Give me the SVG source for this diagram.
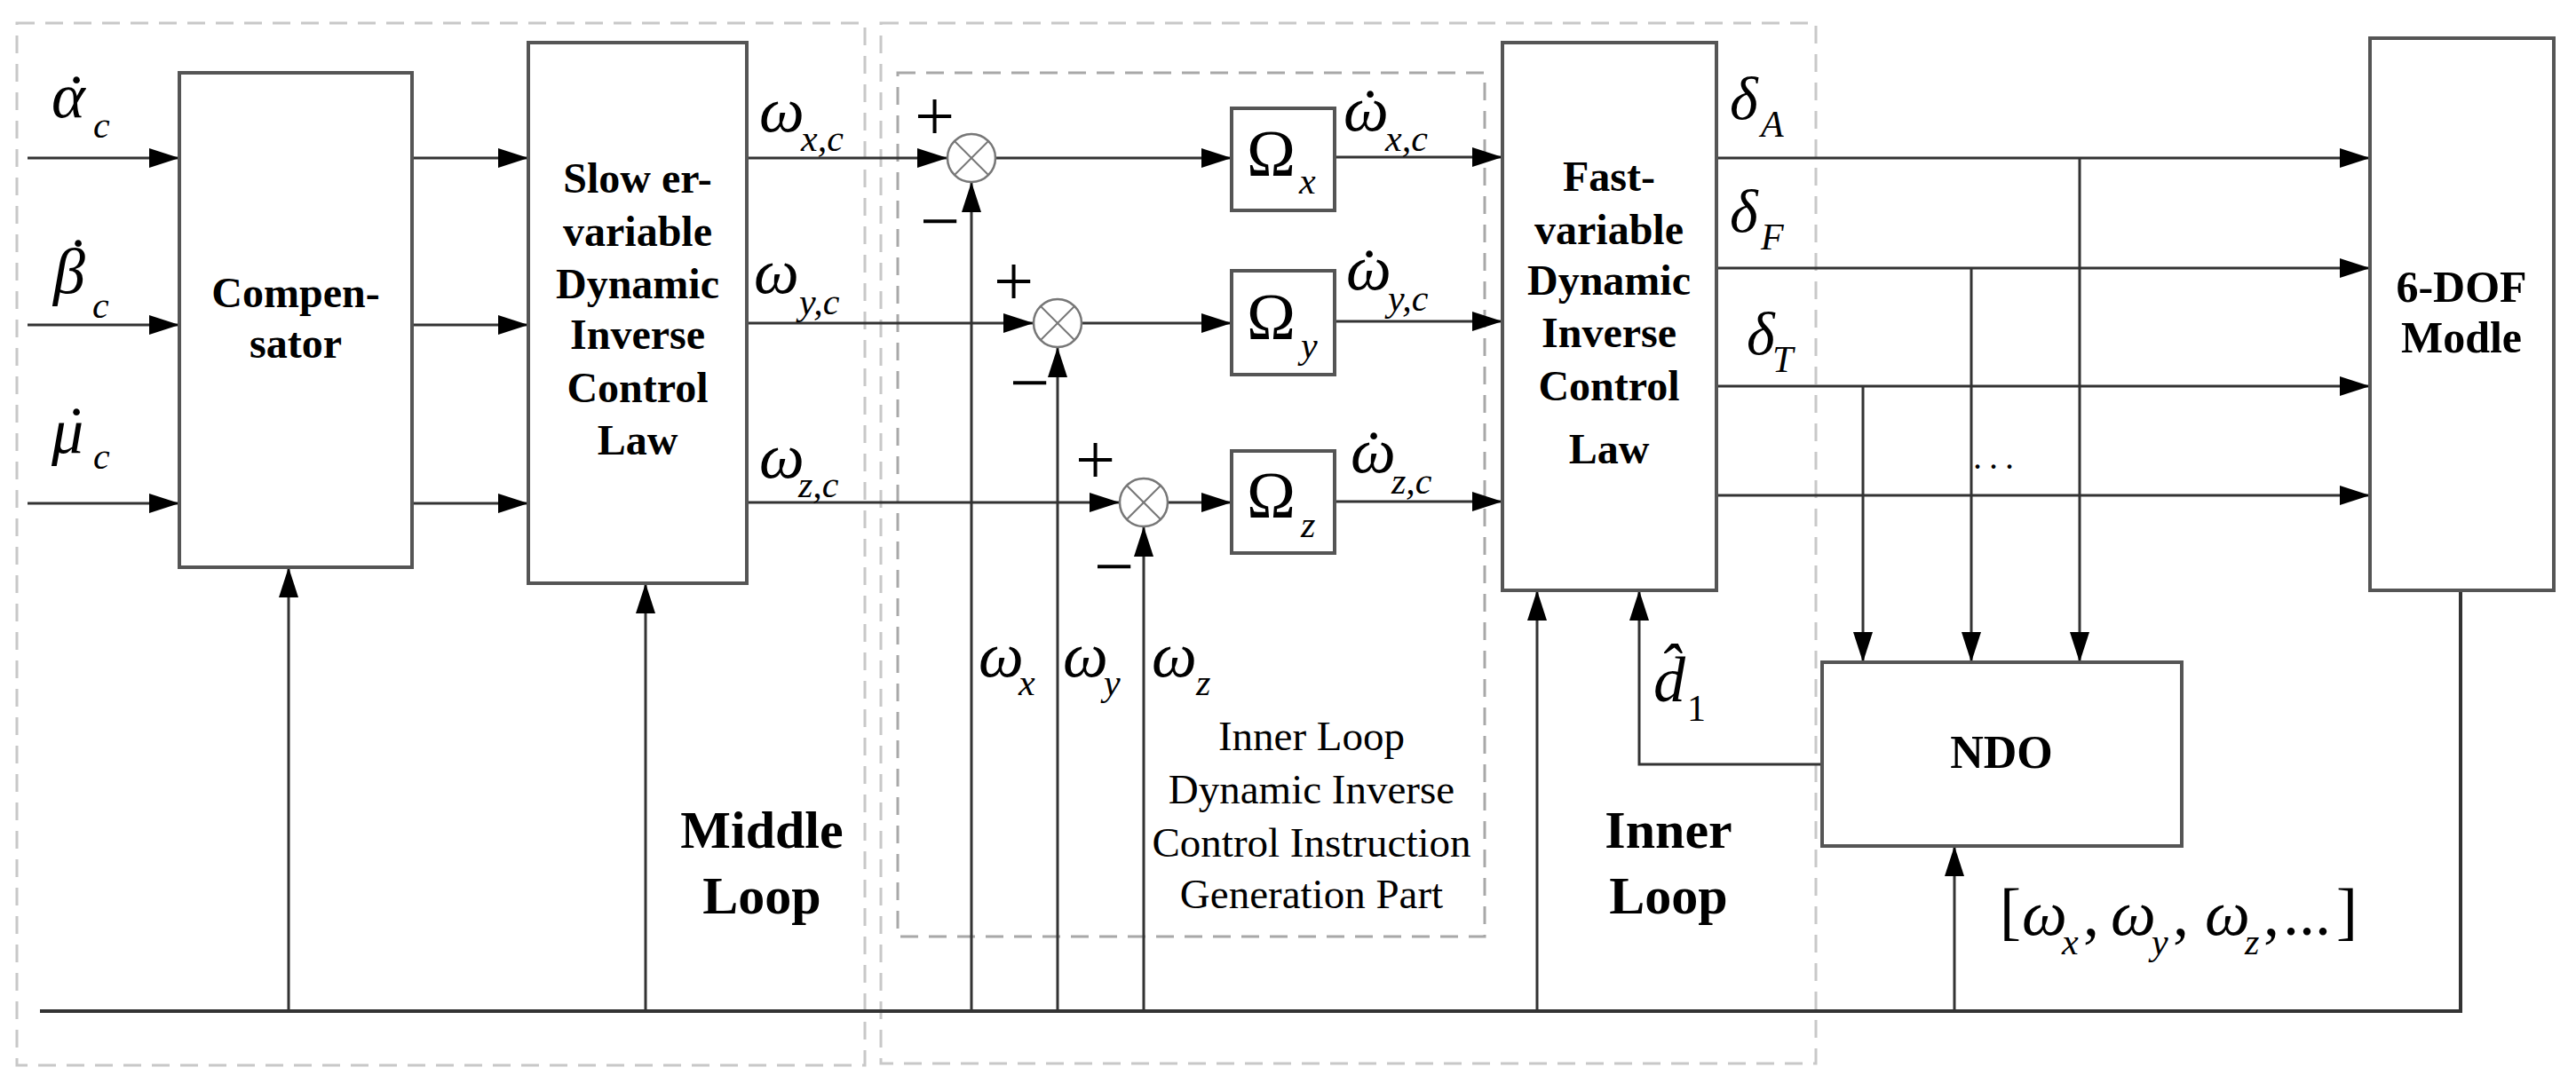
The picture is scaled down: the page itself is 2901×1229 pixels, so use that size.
<svg xmlns="http://www.w3.org/2000/svg" width="2901" height="1229" viewBox="0 0 2901 1229">
<defs>
<marker id="arr" markerUnits="userSpaceOnUse" markerWidth="36" markerHeight="24" refX="34" refY="11" orient="auto">
<path d="M0,0 L34,11 L0,22 z" fill="#000"/>
</marker>
<style>
.bg{fill:#fff}
.box{fill:#fff;stroke:#555;stroke-width:4}
.dash{fill:none;stroke:#c8c8c8;stroke-width:3;stroke-dasharray:20 12}
.dash2{fill:none;stroke:#a8a8a8;stroke-width:3;stroke-dasharray:20 12}
.ln{fill:none;stroke:#333;stroke-width:3}
.arw{fill:none;stroke:#333;stroke-width:3;marker-end:url(#arr)}
.sum{fill:#fff;stroke:#777;stroke-width:2.5}
.sumx{stroke:#777;stroke-width:2}
.b{font-family:"Liberation Serif",serif;font-weight:bold;font-size:48px;text-anchor:middle;fill:#000}
.big{font-size:60px}
.r{font-family:"Liberation Serif",serif;font-size:47px;text-anchor:middle;fill:#000}
.m{font-family:"Liberation Serif",serif;font-style:italic;font-size:72px;fill:#000}
.s{font-style:italic;font-size:42px}
.us{font-style:normal;font-size:42px}
.u{font-family:"Liberation Serif",serif;font-size:72px;fill:#000}
.a{font-style:normal;font-size:72px}
.pm{font-family:"Liberation Serif",serif;font-size:80px;fill:#000}
</style>
</defs>
<rect class="bg" x="0" y="0" width="2901" height="1229"/>

<g id="regions">
<rect class="dash" x="19" y="26" width="955" height="1174"/>
<rect class="dash" x="992" y="26" width="1053" height="1172"/>
<rect class="dash2" x="1011" y="82" width="661" height="973"/>
</g>

<g id="connectors">
<line class="arw" x1="31" y1="178" x2="202" y2="178"/>
<line class="arw" x1="31" y1="366" x2="202" y2="366"/>
<line class="arw" x1="31" y1="567" x2="202" y2="567"/>
<line class="arw" x1="464" y1="178" x2="595" y2="178"/>
<line class="arw" x1="464" y1="366" x2="595" y2="366"/>
<line class="arw" x1="464" y1="567" x2="595" y2="567"/>
<line class="arw" x1="841" y1="178" x2="1067" y2="178"/>
<line class="arw" x1="841" y1="364" x2="1164" y2="364"/>
<line class="arw" x1="841" y1="566" x2="1261" y2="566"/>
<line class="arw" x1="1121" y1="178" x2="1387" y2="178"/>
<line class="arw" x1="1218" y1="364" x2="1387" y2="364"/>
<line class="arw" x1="1315" y1="566" x2="1387" y2="566"/>
<line class="arw" x1="1503" y1="177" x2="1692" y2="177"/>
<line class="arw" x1="1503" y1="362" x2="1692" y2="362"/>
<line class="arw" x1="1503" y1="565" x2="1692" y2="565"/>
<line class="arw" x1="1933" y1="178" x2="2669" y2="178"/>
<line class="arw" x1="1933" y1="302" x2="2669" y2="302"/>
<line class="arw" x1="1933" y1="435" x2="2669" y2="435"/>
<line class="arw" x1="1933" y1="558" x2="2669" y2="558"/>
<line class="arw" x1="2342" y1="178" x2="2342" y2="746"/>
<line class="arw" x1="2220" y1="302" x2="2220" y2="746"/>
<line class="arw" x1="2098" y1="435" x2="2098" y2="746"/>
<polyline class="ln" points="45,1139 2771,1139 2771,665" style="stroke-width:4"/>
<line class="arw" x1="325" y1="1139" x2="325" y2="639"/>
<line class="arw" x1="727" y1="1139" x2="727" y2="657"/>
<line class="arw" x1="1094" y1="1139" x2="1094" y2="205"/>
<line class="arw" x1="1191" y1="1139" x2="1191" y2="391"/>
<line class="arw" x1="1288" y1="1139" x2="1288" y2="593"/>
<line class="arw" x1="1731" y1="1139" x2="1731" y2="665"/>
<line class="arw" x1="2201" y1="1139" x2="2201" y2="953"/>
<polyline class="arw" points="2052,861 1846,861 1846,665"/>
</g>

<g id="compensator">
<rect class="box" x="202" y="82" width="262" height="557"/>
<text class="b" x="333" y="346">Compen-</text>
<text class="b" x="333" y="403">sator</text>
</g>

<g id="slower">
<rect class="box" x="595" y="48" width="246" height="609"/>
<text class="b" x="718" y="217">Slow er-</text>
<text class="b" x="718" y="277">variable</text>
<text class="b" x="718" y="336">Dynamic</text>
<text class="b" x="718" y="393">Inverse</text>
<text class="b" x="718" y="453">Control</text>
<text class="b" x="718" y="512">Law</text>
</g>

<g id="sum1">
<circle class="sum" cx="1094" cy="178" r="27"/>
<line class="sumx" x1="1075" y1="159" x2="1113" y2="197"/>
<line class="sumx" x1="1113" y1="159" x2="1075" y2="197"/>
</g>
<g id="sum2">
<circle class="sum" cx="1191" cy="364" r="27"/>
<line class="sumx" x1="1172" y1="345" x2="1210" y2="383"/>
<line class="sumx" x1="1210" y1="345" x2="1172" y2="383"/>
</g>
<g id="sum3">
<circle class="sum" cx="1288" cy="566" r="27"/>
<line class="sumx" x1="1269" y1="547" x2="1307" y2="585"/>
<line class="sumx" x1="1307" y1="547" x2="1269" y2="585"/>
</g>

<g id="omega-x">
<rect class="box" x="1387" y="122" width="116" height="115"/>
<text class="u" x="1404" y="198" style="font-size:74px">Ω<tspan class="s" x="1463" y="218">x</tspan></text>
</g>
<g id="omega-y">
<rect class="box" x="1387" y="305" width="116" height="117"/>
<text class="u" x="1404" y="382" style="font-size:74px">Ω<tspan class="s" x="1465" y="403">y</tspan></text>
</g>
<g id="omega-z">
<rect class="box" x="1387" y="508" width="116" height="115"/>
<text class="u" x="1404" y="583" style="font-size:74px">Ω<tspan class="s" x="1465" y="605">z</tspan></text>
</g>

<g id="fast">
<rect class="box" x="1692" y="48" width="241" height="617"/>
<text class="b" x="1812" y="215">Fast-</text>
<text class="b" x="1812" y="275">variable</text>
<text class="b" x="1812" y="332">Dynamic</text>
<text class="b" x="1812" y="391">Inverse</text>
<text class="b" x="1812" y="451">Control</text>
<text class="b" x="1812" y="522">Law</text>
</g>

<g id="dof6">
<rect class="box" x="2669" y="43" width="207" height="622"/>
<text class="b" x="2772" y="340" style="font-size:50px">6-DOF</text>
<text class="b" x="2772" y="397" style="font-size:50px">Modle</text>
</g>

<g id="ndo">
<rect class="box" x="2052" y="746" width="405" height="207"/>
<text class="b" x="2254" y="865" style="font-size:52px">NDO</text>
</g>

<g id="labels">
<text class="m" x="58" y="132">α<tspan class="a" x="74" y="134">˙</tspan><tspan class="s" x="105" y="155">c</tspan></text>
<text class="m" x="60" y="330">β<tspan class="a" x="76" y="318">˙</tspan><tspan class="s" x="104" y="358">c</tspan></text>
<text class="m" x="58" y="510">μ<tspan class="a" x="74" y="508">˙</tspan><tspan class="s" x="105" y="528">c</tspan></text>

<text class="m" x="855" y="148">ω<tspan class="s" x="902" y="170">x,c</tspan></text>
<text class="m" x="849" y="330">ω<tspan class="s" x="900" y="354">y,c</tspan></text>
<text class="m" x="855" y="538">ω<tspan class="s" x="899" y="560">z,c</tspan></text>

<text class="pm" x="1030" y="158">+</text>
<text class="pm" x="1036" y="276">−</text>
<text class="pm" x="1119" y="344">+</text>
<text class="pm" x="1137" y="458">−</text>
<text class="pm" x="1211" y="545">+</text>
<text class="pm" x="1232" y="665">−</text>

<text class="m" x="1513" y="147">ω<tspan class="a" x="1531" y="150">˙</tspan><tspan class="s" x="1560" y="170">x,c</tspan></text>
<text class="m" x="1516" y="326">ω<tspan class="a" x="1530" y="330">˙</tspan><tspan class="s" x="1563" y="350">y,c</tspan></text>
<text class="m" x="1521" y="532">ω<tspan class="a" x="1535" y="535">˙</tspan><tspan class="s" x="1567" y="556">z,c</tspan></text>

<text class="m" x="1102" y="762">ω<tspan class="s" x="1147" y="783">x</tspan></text>
<text class="m" x="1197" y="762">ω<tspan class="s" x="1243" y="783">y</tspan></text>
<text class="m" x="1297" y="762">ω<tspan class="s" x="1347" y="783">z</tspan></text>

<text class="r" x="1477" y="845">Inner Loop</text>
<text class="r" x="1477" y="905">Dynamic Inverse</text>
<text class="r" x="1477" y="965">Control Instruction</text>
<text class="r" x="1477" y="1023">Generation Part</text>

<text class="b big" x="858" y="955">Middle</text>
<text class="b big" x="858" y="1029">Loop</text>
<text class="b big" x="1879" y="955">Inner</text>
<text class="b big" x="1879" y="1029">Loop</text>

<text class="m" x="1862" y="790">d̂<tspan class="us" x="1900" y="812">1</tspan></text>

<text class="m" x="1948" y="134" style="font-size:68px">δ<tspan class="s" x="1983" y="154">A</tspan></text>
<text class="m" x="1948" y="261" style="font-size:68px">δ<tspan class="s" x="1983" y="281">F</tspan></text>
<text class="m" x="1967" y="399" style="font-size:68px">δ<tspan class="s" x="1996" y="419">T</tspan></text>
<text class="u" x="2222" y="528" style="font-size:40px;letter-spacing:8px">...</text>

<text class="u" x="2252" y="1050">[<tspan class="m" x="2277" y="1053">ω</tspan><tspan class="s" x="2322" y="1075">x</tspan><tspan x="2346" y="1053">,</tspan><tspan class="m" x="2377" y="1053">ω</tspan><tspan class="s" x="2423" y="1075">y</tspan><tspan x="2447" y="1053">,</tspan><tspan class="m" x="2483" y="1053">ω</tspan><tspan class="s" x="2528" y="1075">z</tspan><tspan x="2549" y="1053">,</tspan><tspan x="2571" y="1053">...</tspan><tspan x="2631" y="1050">]</tspan></text>
</g>
</svg>
